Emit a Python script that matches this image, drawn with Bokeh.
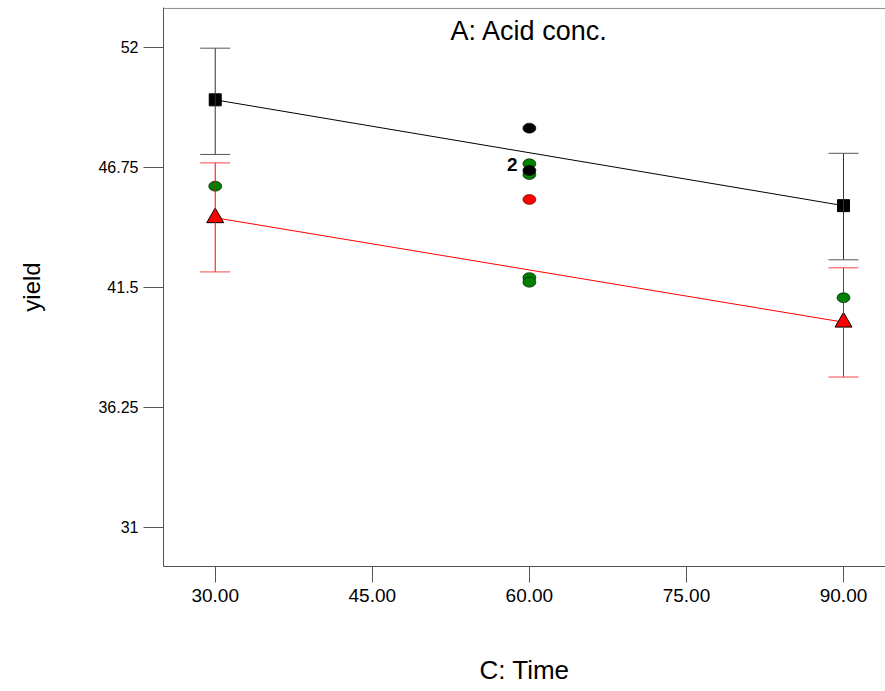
from bokeh.plotting import figure
from bokeh.models import (Range1d, FixedTicker, NumeralTickFormatter, Whisker, TeeHead,
                          ColumnDataSource, Label, Span)
from bokeh.core.properties import value
from bokeh.embed import file_html
from bokeh.resources import INLINE

# ---- data ----
x_levels = [30, 90]
black_mean = [49.70, 45.07]
black_lower = [47.31, 42.70]
black_upper = [51.96, 47.36]
red_mean = [44.54, 39.97]
red_lower = [42.17, 37.57]
red_upper = [46.94, 42.35]

green_x = [30, 60, 60, 60, 60, 90]
green_y = [45.92, 46.90, 46.43, 41.92, 41.72, 41.04]
blackpt_x = [60, 60]
blackpt_y = [48.46, 46.61]
redpt_x = [60]
redpt_y = [45.34]

x_ticks = [30, 45, 60, 75, 90]
y_ticks = [31, 36.25, 41.5, 46.75, 52]
y_tick_labels = ["31", "36.25", "41.5", "46.75", "52"]

FONT = "Liberation Sans"

p = figure(width=885, height=691,
           x_range=Range1d(25.06, 94.01), y_range=Range1d(29.28, 53.74),
           output_backend="svg", toolbar_location=None,
           min_border_left=163, min_border_right=0, min_border_top=7, min_border_bottom=125)
p.outline_line_color = None
p.xgrid.visible = False
p.ygrid.visible = False
p.background_fill_color = "white"

# axes
p.xaxis.ticker = FixedTicker(ticks=x_ticks)
p.xaxis.formatter = NumeralTickFormatter(format="0.00")
p.yaxis.ticker = FixedTicker(ticks=y_ticks)
p.yaxis.major_label_overrides = {t: l for t, l in zip(y_ticks, y_tick_labels)}
for ax in (p.xaxis, p.yaxis):
    ax.minor_tick_line_color = None
    ax.major_tick_in = 0
    ax.axis_line_color = "#555555"
    ax.major_tick_line_color = "#555555"
    ax.major_label_text_font = FONT
    ax.major_label_text_color = "black"
    ax.axis_label_text_font = FONT
    ax.axis_label_text_font_style = "normal"
    ax.axis_label_text_color = "black"
p.xaxis.major_tick_out = 16
p.yaxis.major_tick_out = 20
p.xaxis.major_label_text_font_size = "19px"
p.yaxis.major_label_text_font_size = "16px"
p.xaxis.major_label_standoff = 6
p.yaxis.major_label_standoff = 5
p.xaxis.axis_label = "C: Time"
p.yaxis.axis_label = "yield"
p.xaxis.axis_label_text_font_size = "26px"
p.yaxis.axis_label_text_font_size = "24px"
p.xaxis.axis_label_standoff = 50
p.yaxis.axis_label_standoff = 50

# top border
p.add_layout(Span(location=53.70, dimension="width", line_color="#888888", line_width=1))

# fitted lines
p.line(x_levels, black_mean, line_color="black", line_width=1)
p.line(x_levels, red_mean, line_color="red", line_width=1)

# error bars
bsrc = ColumnDataSource(dict(x=x_levels, lower=black_lower, upper=black_upper))
rsrc = ColumnDataSource(dict(x=x_levels, lower=red_lower, upper=red_upper))
p.add_layout(Whisker(source=bsrc, base="x", lower="lower", upper="upper",
                     line_color="#333333", line_width=1, level="glyph",
                     upper_head=TeeHead(size=30, line_color="#555555", line_width=1),
                     lower_head=TeeHead(size=30, line_color="#555555", line_width=1)))
p.add_layout(Whisker(source=rsrc, base="x", lower="lower", upper="upper",
                     line_color="red", line_width=1, level="glyph",
                     upper_head=TeeHead(size=30, line_color="#ff4444", line_width=1),
                     lower_head=TeeHead(size=30, line_color="#ff4444", line_width=1)))

# design points
p.ellipse(green_x, green_y, width=13, height=10, width_units="screen", height_units="screen",
          fill_color="#008000", line_color="black", line_width=0.6)
p.ellipse(redpt_x, redpt_y, width=13, height=10, width_units="screen", height_units="screen",
          fill_color="red", line_color="#550000", line_width=0.6)
p.ellipse(blackpt_x, blackpt_y, width=13, height=10, width_units="screen", height_units="screen",
          fill_color="black", line_color="black", line_width=0.6)
p.text([60], [46.87], text=["2"], x_offset=-17, text_align="center", text_baseline="middle",
       text_font=value(FONT), text_font_style="bold", text_font_size="19px", text_color="black")

# means
p.scatter(x_levels, black_mean, marker="square", size=12, fill_color="black", line_color="black")
p.scatter(x_levels, red_mean, marker="triangle", size=17, fill_color="red", line_color="black",
          line_width=1)

# panel title
p.add_layout(Label(x=60, y=52.73, text="A: Acid conc.", text_align="center",
                   text_baseline="alphabetic", text_font=FONT, text_font_size="27px",
                   text_color="black"))

open("out.html", "w").write(file_html(p, INLINE))
